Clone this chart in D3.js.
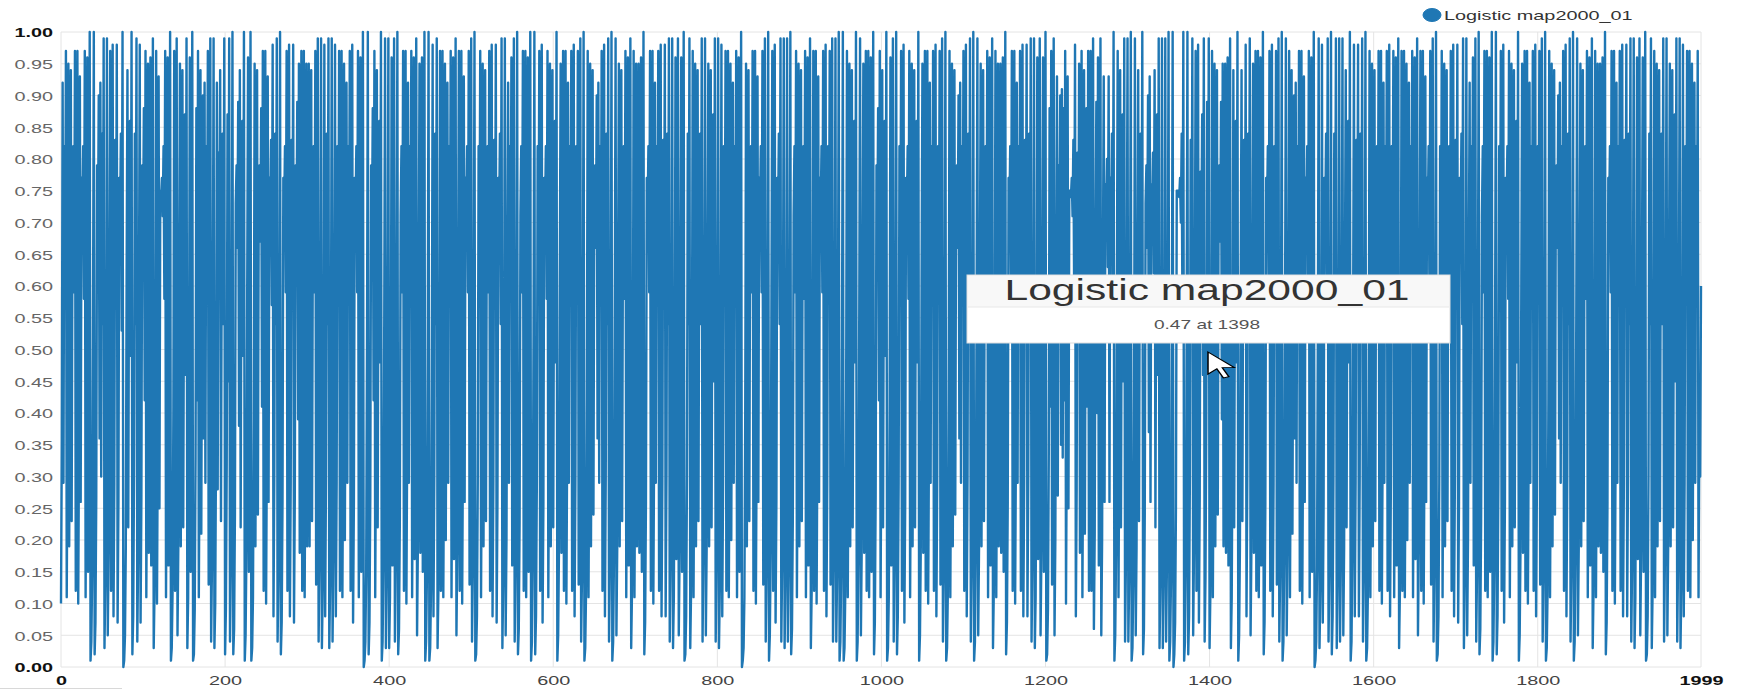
<!DOCTYPE html>
<html><head><meta charset="utf-8">
<script src="https://cdn.jsdelivr.net/npm/d3@7"></script>
<style>
html,body{margin:0;padding:0;background:#fff;}
svg{display:block;font-family:"Liberation Sans",Arial,sans-serif;}
</style></head>
<body>
<svg id="chart" width="1737" height="693"></svg>
<script>
const seriesName = "Logistic map2000_01";
const tooltipValue = "0.47 at 1398";
const xTicks = [0,200,400,600,800,1000,1200,1400,1600,1800,1999];
const yTicks = [0.00,0.05,0.10,0.15,0.20,0.25,0.30,0.35,0.40,0.45,0.50,0.55,0.60,0.65,0.70,0.75,0.80,0.85,0.90,0.95,1.00];
const values = [
0.10,0.36,0.92,0.29,0.82,0.59,0.97,0.11,0.39,0.95,0.19,0.62,0.94,0.23,0.71,0.82,0.59,0.97,0.12,0.42,
0.97,0.10,0.37,0.93,0.26,0.77,0.71,0.82,0.58,0.97,0.11,0.40,0.96,0.15,0.51,1.00,0.01,0.04,0.15,0.52,
1.00,0.02,0.07,0.27,0.79,0.66,0.90,0.36,0.92,0.30,0.84,0.54,0.99,0.03,0.13,0.45,0.99,0.05,0.18,0.59,
0.97,0.12,0.43,0.98,0.08,0.29,0.83,0.57,0.98,0.07,0.26,0.77,0.70,0.84,0.53,1.00,0.00,0.01,0.05,0.19,
0.62,0.94,0.22,0.69,0.86,0.49,1.00,0.02,0.08,0.30,0.84,0.54,0.99,0.04,0.17,0.56,0.98,0.07,0.27,0.79,
0.67,0.88,0.42,0.97,0.11,0.39,0.95,0.18,0.60,0.96,0.16,0.54,0.99,0.03,0.12,0.42,0.97,0.10,0.37,0.93,
0.25,0.75,0.74,0.77,0.71,0.82,0.58,0.97,0.11,0.40,0.96,0.16,0.53,1.00,0.01,0.03,0.12,0.41,0.97,0.12,
0.44,0.99,0.05,0.19,0.61,0.95,0.19,0.62,0.94,0.22,0.68,0.87,0.46,0.99,0.03,0.11,0.40,0.96,0.15,0.51,
1.00,0.01,0.02,0.09,0.33,0.88,0.42,0.97,0.11,0.38,0.94,0.21,0.66,0.90,0.36,0.92,0.29,0.82,0.59,0.97,
0.13,0.45,0.99,0.04,0.16,0.54,0.99,0.03,0.10,0.36,0.92,0.28,0.81,0.62,0.94,0.23,0.70,0.84,0.54,0.99,
0.02,0.09,0.32,0.87,0.45,0.99,0.04,0.15,0.51,1.00,0.02,0.06,0.24,0.73,0.79,0.66,0.89,0.38,0.94,0.22,
0.69,0.86,0.49,1.00,0.01,0.05,0.18,0.60,0.96,0.15,0.52,1.00,0.01,0.03,0.11,0.39,0.95,0.19,0.62,0.94,
0.24,0.73,0.79,0.67,0.88,0.41,0.97,0.12,0.42,0.97,0.10,0.37,0.93,0.26,0.77,0.71,0.83,0.57,0.98,0.08,
0.30,0.84,0.54,0.99,0.04,0.14,0.49,1.00,0.02,0.07,0.26,0.77,0.71,0.82,0.59,0.97,0.12,0.43,0.98,0.08,
0.29,0.83,0.57,0.98,0.07,0.27,0.79,0.67,0.89,0.39,0.95,0.18,0.59,0.97,0.12,0.42,0.97,0.11,0.39,0.95,
0.19,0.61,0.95,0.19,0.62,0.94,0.23,0.71,0.82,0.59,0.97,0.13,0.45,0.99,0.04,0.16,0.54,0.99,0.03,0.12,
0.43,0.98,0.08,0.30,0.84,0.54,0.99,0.03,0.13,0.46,0.99,0.04,0.17,0.57,0.98,0.08,0.29,0.82,0.59,0.97,
0.12,0.42,0.97,0.11,0.39,0.95,0.20,0.64,0.92,0.29,0.82,0.59,0.97,0.12,0.43,0.98,0.07,0.26,0.77,0.71,
0.82,0.59,0.97,0.11,0.40,0.96,0.15,0.51,1.00,0.00,0.01,0.04,0.15,0.51,1.00,0.02,0.07,0.27,0.79,0.67,
0.88,0.42,0.97,0.11,0.38,0.94,0.22,0.69,0.86,0.48,1.00,0.01,0.04,0.16,0.54,0.99,0.03,0.13,0.46,0.99,
0.03,0.11,0.40,0.96,0.16,0.54,0.99,0.04,0.16,0.53,1.00,0.02,0.06,0.23,0.71,0.82,0.59,0.97,0.12,0.42,
0.97,0.10,0.36,0.92,0.29,0.82,0.58,0.97,0.11,0.40,0.96,0.17,0.56,0.99,0.05,0.19,0.61,0.95,0.18,0.60,
0.96,0.15,0.51,1.00,0.01,0.04,0.14,0.48,1.00,0.01,0.03,0.12,0.43,0.98,0.08,0.30,0.84,0.54,0.99,0.03,
0.12,0.41,0.97,0.12,0.42,0.97,0.11,0.39,0.95,0.20,0.64,0.92,0.29,0.82,0.58,0.97,0.11,0.40,0.96,0.17,
0.56,0.99,0.05,0.18,0.59,0.97,0.12,0.42,0.97,0.10,0.37,0.93,0.26,0.77,0.71,0.82,0.59,0.97,0.13,0.45,
0.99,0.04,0.15,0.51,1.00,0.01,0.02,0.08,0.29,0.82,0.58,0.97,0.11,0.39,0.95,0.19,0.62,0.94,0.23,0.71,
0.82,0.59,0.97,0.12,0.43,0.98,0.08,0.29,0.83,0.57,0.98,0.07,0.26,0.77,0.70,0.84,0.54,0.99,0.03,0.13,
0.44,0.99,0.05,0.20,0.64,0.92,0.29,0.82,0.60,0.96,0.16,0.54,0.99,0.04,0.15,0.51,1.00,0.02,0.06,0.23,
0.71,0.82,0.59,0.97,0.12,0.42,0.97,0.11,0.40,0.96,0.15,0.52,1.00,0.01,0.04,0.16,0.53,1.00,0.02,0.08,
0.29,0.82,0.59,0.97,0.12,0.43,0.98,0.07,0.26,0.77,0.71,0.82,0.58,0.97,0.11,0.39,0.95,0.19,0.62,0.94,
0.22,0.69,0.86,0.48,1.00,0.01,0.05,0.19,0.61,0.95,0.18,0.59,0.97,0.12,0.42,0.97,0.10,0.36,0.92,0.29,
0.82,0.59,0.97,0.12,0.43,0.98,0.08,0.29,0.82,0.59,0.97,0.13,0.45,0.99,0.04,0.14,0.48,1.00,0.01,0.03,
0.12,0.42,0.97,0.11,0.39,0.95,0.19,0.62,0.94,0.24,0.73,0.79,0.66,0.90,0.36,0.92,0.29,0.82,0.59,0.97,
0.12,0.43,0.98,0.08,0.30,0.84,0.54,0.99,0.04,0.15,0.51,1.00,0.01,0.04,0.17,0.56,0.99,0.05,0.19,0.61,
0.95,0.19,0.62,0.94,0.23,0.71,0.82,0.58,0.97,0.11,0.40,0.96,0.16,0.54,0.99,0.03,0.12,0.42,0.97,0.11,
0.39,0.95,0.19,0.61,0.95,0.18,0.60,0.96,0.15,0.52,1.00,0.02,0.07,0.26,0.77,0.71,0.82,0.59,0.97,0.12,
0.42,0.97,0.10,0.36,0.92,0.29,0.82,0.59,0.97,0.12,0.43,0.98,0.08,0.29,0.83,0.57,0.98,0.08,0.30,0.84,
0.54,0.99,0.04,0.16,0.54,0.99,0.03,0.11,0.40,0.96,0.17,0.56,0.99,0.05,0.18,0.60,0.96,0.15,0.51,1.00,
0.01,0.02,0.08,0.30,0.84,0.54,0.99,0.03,0.12,0.42,0.97,0.11,0.39,0.95,0.19,0.62,0.94,0.23,0.70,0.84,
0.54,0.99,0.04,0.17,0.56,0.99,0.05,0.19,0.61,0.95,0.19,0.62,0.94,0.22,0.68,0.87,0.45,0.99,0.04,0.16,
0.54,0.99,0.03,0.12,0.43,0.98,0.08,0.29,0.82,0.59,0.97,0.12,0.42,0.97,0.11,0.39,0.95,0.20,0.64,0.92,
0.29,0.82,0.58,0.97,0.11,0.40,0.96,0.15,0.51,1.00,0.00,0.01,0.03,0.11,0.39,0.95,0.19,0.62,0.94,0.23,
0.71,0.82,0.59,0.97,0.12,0.42,0.97,0.10,0.37,0.93,0.26,0.77,0.71,0.82,0.59,0.97,0.13,0.45,0.99,0.04,
0.15,0.51,1.00,0.01,0.05,0.18,0.59,0.97,0.12,0.43,0.98,0.07,0.26,0.77,0.70,0.84,0.54,0.99,0.04,0.16,
0.54,0.99,0.03,0.13,0.45,0.99,0.04,0.15,0.51,1.00,0.02,0.06,0.23,0.71,0.82,0.59,0.97,0.11,0.39,0.95,
0.19,0.62,0.94,0.23,0.71,0.82,0.58,0.97,0.11,0.40,0.96,0.16,0.54,0.99,0.03,0.12,0.42,0.97,0.12,0.42,
0.97,0.10,0.37,0.93,0.26,0.77,0.71,0.82,0.59,0.97,0.12,0.43,0.98,0.08,0.29,0.82,0.59,0.97,0.13,0.45,
0.99,0.04,0.16,0.54,0.99,0.04,0.15,0.51,1.00,0.01,0.04,0.15,0.52,1.00,0.01,0.03,0.12,0.42,0.97,0.11,
0.39,0.95,0.19,0.62,0.94,0.22,0.69,0.86,0.48,1.00,0.01,0.04,0.17,0.56,0.99,0.05,0.19,0.61,0.95,0.18,
0.59,0.97,0.12,0.42,0.97,0.11,0.40,0.96,0.15,0.51,1.00,0.02,0.07,0.27,0.79,0.67,0.88,0.42,0.97,0.11,
0.38,0.94,0.22,0.69,0.86,0.49,1.00,0.01,0.03,0.11,0.40,0.96,0.16,0.54,0.99,0.04,0.16,0.53,1.00,0.02,
0.08,0.29,0.82,0.59,0.97,0.12,0.43,0.98,0.07,0.26,0.77,0.71,0.82,0.58,0.97,0.11,0.39,0.95,0.19,0.62,
0.94,0.22,0.69,0.86,0.48,1.00,0.01,0.05,0.19,0.61,0.95,0.18,0.59,0.97,0.12,0.42,0.97,0.10,0.36,0.92,
0.29,0.82,0.59,0.97,0.12,0.43,0.98,0.08,0.29,0.82,0.59,0.97,0.13,0.45,0.99,0.04,0.14,0.48,1.00,0.01,
0.03,0.12,0.42,0.97,0.11,0.39,0.95,0.19,0.62,0.94,0.24,0.73,0.79,0.66,0.90,0.36,0.92,0.29,0.82,0.59,
0.97,0.12,0.43,0.98,0.08,0.30,0.84,0.54,0.99,0.04,0.15,0.51,1.00,0.01,0.04,0.17,0.56,0.99,0.05,0.19,
0.61,0.95,0.19,0.62,0.94,0.23,0.71,0.82,0.58,0.97,0.11,0.40,0.96,0.16,0.54,0.99,0.03,0.12,0.42,0.97,
0.11,0.39,0.95,0.19,0.61,0.95,0.18,0.60,0.96,0.15,0.52,1.00,0.02,0.07,0.26,0.77,0.71,0.82,0.59,0.97,
0.12,0.42,0.97,0.10,0.36,0.92,0.29,0.82,0.59,0.97,0.12,0.43,0.98,0.08,0.29,0.83,0.57,0.98,0.08,0.30,
0.84,0.54,0.99,0.04,0.16,0.54,0.99,0.03,0.11,0.40,0.96,0.17,0.56,0.99,0.05,0.18,0.60,0.96,0.15,0.51,
1.00,0.01,0.02,0.09,0.33,0.88,0.41,0.97,0.13,0.46,0.99,0.05,0.20,0.64,0.93,0.27,0.79,0.66,0.90,0.35,
0.91,0.33,0.88,0.42,0.97,0.10,0.37,0.93,0.25,0.75,0.75,0.74,0.77,0.71,0.83,0.57,0.98,0.08,0.28,0.81,
0.61,0.95,0.18,0.58,0.97,0.11,0.38,0.94,0.21,0.67,0.88,0.41,0.97,0.12,0.41,0.97,0.12,0.44,0.99,0.06,
0.21,0.67,0.89,0.40,0.96,0.16,0.55,0.99,0.05,0.20,0.63,0.93,0.26,0.76,0.72,0.80,0.63,0.93,0.26,0.77,
0.70,0.84,0.53,1.00,0.01,0.05,0.18,0.58,0.97,0.11,0.38,0.94,0.22,0.68,0.87,0.45,0.99,0.04,0.16,0.55,
0.99,0.04,0.14,0.49,1.00,0.01,0.03,0.13,0.44,0.99,0.05,0.19,0.62,0.94,0.23,0.70,0.84,0.53,1.00,0.02,
0.06,0.24,0.73,0.79,0.66,0.90,0.37,0.93,0.26,0.76,0.72,0.81,0.62,0.94,0.22,0.68,0.87,0.46,0.99,0.03,
0.13,0.46,0.99,0.03,0.13,0.45,0.99,0.04,0.16,0.53,1.00,0.01,0.04,0.14,0.49,1.00,0.00,0.02,0.07,0.25,
0.75,0.75,0.75,0.74,0.77,0.70,0.84,0.53,1.00,0.01,0.04,0.15,0.50,1.00,0.02,0.08,0.30,0.83,0.56,0.99,
0.05,0.18,0.59,0.97,0.12,0.43,0.98,0.07,0.27,0.78,0.68,0.87,0.46,0.99,0.04,0.14,0.38,0.89,0.47,0.99,
0.03,0.12,0.42,0.97,0.11,0.39,0.95,0.19,0.62,0.94,0.24,0.73,0.79,0.67,0.89,0.39,0.95,0.19,0.61,0.95,
0.18,0.60,0.96,0.16,0.54,0.99,0.03,0.11,0.38,0.94,0.22,0.69,0.86,0.48,1.00,0.01,0.05,0.19,0.62,0.94,
0.23,0.71,0.83,0.57,0.98,0.08,0.30,0.84,0.55,0.99,0.05,0.19,0.61,0.95,0.18,0.59,0.97,0.12,0.42,0.97,
0.11,0.40,0.96,0.16,0.53,1.00,0.02,0.07,0.26,0.77,0.71,0.82,0.59,0.97,0.12,0.43,0.98,0.08,0.29,0.82,
0.59,0.97,0.13,0.45,0.99,0.04,0.15,0.51,1.00,0.01,0.04,0.17,0.56,0.99,0.05,0.18,0.58,0.97,0.11,0.38,
0.94,0.21,0.66,0.90,0.36,0.92,0.29,0.82,0.59,0.97,0.12,0.42,0.97,0.10,0.37,0.93,0.26,0.77,0.71,0.82,
0.58,0.97,0.11,0.40,0.96,0.15,0.51,1.00,0.00,0.01,0.04,0.16,0.54,0.99,0.03,0.12,0.43,0.98,0.07,0.26,
0.77,0.70,0.84,0.54,0.99,0.04,0.15,0.52,1.00,0.02,0.08,0.30,0.84,0.54,0.99,0.03,0.13,0.45,0.99,0.04,
0.16,0.54,0.99,0.05,0.19,0.62,0.94,0.22,0.69,0.86,0.48,1.00,0.01,0.04,0.17,0.57,0.98,0.08,0.29,0.83,
0.57,0.98,0.08,0.30,0.84,0.54,0.99,0.04,0.14,0.48,1.00,0.01,0.03,0.12,0.42,0.97,0.11,0.39,0.95,0.19,
0.62,0.94,0.23,0.71,0.82,0.59,0.97,0.12,0.42,0.97,0.10,0.36,0.92,0.29,0.82,0.59,0.97,0.12,0.43,0.98,
0.08,0.29,0.82,0.58,0.97,0.11,0.40,0.96,0.16,0.54,0.99,0.03,0.12,0.41,0.97,0.12,0.42,0.97,0.11,0.39,
0.95,0.20,0.64,0.92,0.29,0.82,0.58,0.97,0.11,0.40,0.96,0.17,0.56,0.99,0.05,0.18,0.59,0.97,0.12,0.42,
0.97,0.10,0.37,0.93,0.26,0.77,0.71,0.82,0.59,0.97,0.13,0.45,0.99,0.04,0.15,0.51,1.00,0.01,0.02,0.08,
0.29,0.82,0.58,0.97,0.11,0.39,0.95,0.19,0.62,0.94,0.23,0.71,0.82,0.59,0.97,0.12,0.43,0.98,0.08,0.29,
0.83,0.57,0.98,0.07,0.26,0.77,0.70,0.84,0.54,0.99,0.03,0.13,0.44,0.99,0.05,0.20,0.64,0.92,0.29,0.82,
0.60,0.96,0.16,0.54,0.99,0.04,0.15,0.51,1.00,0.02,0.06,0.23,0.71,0.82,0.59,0.97,0.12,0.42,0.97,0.11,
0.40,0.96,0.15,0.52,1.00,0.01,0.04,0.16,0.53,1.00,0.02,0.08,0.29,0.82,0.59,0.97,0.12,0.43,0.98,0.07,
0.26,0.77,0.71,0.82,0.58,0.97,0.11,0.39,0.95,0.19,0.62,0.94,0.22,0.69,0.86,0.48,1.00,0.01,0.05,0.19,
0.61,0.95,0.18,0.59,0.97,0.12,0.42,0.97,0.10,0.36,0.92,0.29,0.82,0.59,0.97,0.12,0.43,0.98,0.08,0.29,
0.82,0.59,0.97,0.13,0.45,0.99,0.04,0.14,0.48,1.00,0.01,0.03,0.12,0.42,0.97,0.11,0.39,0.95,0.19,0.62,
0.94,0.24,0.73,0.79,0.66,0.90,0.36,0.92,0.29,0.82,0.59,0.97,0.12,0.43,0.98,0.08,0.30,0.84,0.54,0.99,
0.04,0.15,0.51,1.00,0.01,0.04,0.17,0.56,0.99,0.05,0.19,0.61,0.95,0.19,0.62,0.94,0.23,0.71,0.82,0.58,
0.97,0.11,0.40,0.96,0.16,0.54,0.99,0.03,0.12,0.42,0.97,0.11,0.39,0.95,0.19,0.61,0.95,0.18,0.60,0.96,
0.15,0.52,1.00,0.02,0.07,0.26,0.77,0.71,0.82,0.59,0.97,0.12,0.42,0.97,0.10,0.36,0.92,0.29,0.82,0.59,
0.97,0.12,0.43,0.98,0.08,0.29,0.83,0.57,0.98,0.08,0.30,0.84,0.54,0.99,0.04,0.16,0.54,0.99,0.03,0.11,
0.40,0.96,0.17,0.56,0.99,0.05,0.18,0.60,0.96,0.15,0.51,1.00,0.01,0.02,0.08,0.30,0.84,0.54,0.99,0.03,
0.12,0.42,0.97,0.11,0.39,0.95,0.19,0.62,0.94,0.23,0.70,0.84,0.54,0.99,0.04,0.17,0.56,0.99,0.05,0.19,
0.61,0.95,0.19,0.62,0.94,0.22,0.68,0.87,0.45,0.99,0.04,0.16,0.54,0.99,0.03,0.12,0.43,0.98,0.08,0.29,
0.82,0.59,0.97,0.12,0.42,0.97,0.11,0.39,0.95,0.20,0.64,0.92,0.29,0.82,0.58,0.97,0.11,0.40,0.30,0.60
];

const SX = 1.47; // horizontal stretch of the original screenshot's text
const svg = d3.select("#chart");
const x = d3.scaleLinear().domain([0, 1999]).range([61, 1701]);
const y = d3.scaleLinear().domain([0, 1]).range([667, 32]);
const fmt = d3.format(".2f");

// grid
const grid = svg.append("g");
grid.selectAll("line.h").data(yTicks).join("line")
  .attr("x1", x(0)).attr("x2", x(1999))
  .attr("y1", d => y(d)).attr("y2", d => y(d))
  .attr("stroke", "#e4e4e4").attr("stroke-width", 1);
grid.selectAll("line.v").data(xTicks).join("line")
  .attr("x1", d => x(d)).attr("x2", d => x(d))
  .attr("y1", y(0)).attr("y2", y(1))
  .attr("stroke", "#e4e4e4").attr("stroke-width", 1);

// line
const line = d3.line().x((d, i) => x(i)).y(d => y(d));
svg.append("path").datum(values)
  .attr("fill", "none").attr("stroke", "#1f77b4")
  .attr("stroke-width", 2.4).attr("stroke-linejoin", "round")
  .attr("d", line);

// y axis
const yAxis = svg.append("g").attr("transform", `translate(${x(0)},0)`)
  .call(d3.axisLeft(y).tickValues(yTicks).tickFormat(fmt).tickSize(0).tickPadding(0));
yAxis.select(".domain").remove();
yAxis.selectAll("text")
  .attr("x", -8 / SX).attr("dy", "0.36em")
  .attr("transform", `scale(${SX},1)`)
  .style("font-size", "13.5px")
  .style("font-family", "'Liberation Sans',Arial,sans-serif")
  .style("fill", d => (d === 0 || d === 1) ? "#111" : "#666")
  .style("font-weight", d => (d === 0 || d === 1) ? "bold" : "normal");

// x axis
const xAxis = svg.append("g").attr("transform", `translate(0,${y(0)})`)
  .call(d3.axisBottom(x).tickValues(xTicks).tickFormat(d3.format("d")).tickSize(0).tickPadding(0));
xAxis.select(".domain").remove();
xAxis.selectAll("text")
  .attr("y", 13).attr("dy", "0.36em")
  .attr("transform", `scale(${SX},1)`)
  .style("font-size", "13.5px")
  .style("font-family", "'Liberation Sans',Arial,sans-serif")
  .style("fill", d => (d === 0 || d === 1999) ? "#111" : "#444")
  .style("font-weight", d => (d === 0 || d === 1999) ? "bold" : "normal");

// legend
const lg = svg.append("g").attr("transform", "translate(1432,15)");
lg.append("ellipse").attr("rx", 9).attr("ry", 6.5).attr("fill", "#1f77b4").attr("stroke", "#1f77b4");
lg.append("text").attr("transform", `translate(12,0) scale(${SX},1)`)
  .attr("dy", "0.36em").style("font-size", "13.5px").style("fill", "#333")
  .text(seriesName);

// tooltip
const tt = svg.append("g");
tt.append("rect").attr("x", 967).attr("y", 275).attr("width", 483).attr("height", 68)
  .attr("fill", "#fff").attr("stroke", "#ddd").attr("stroke-width", 1);
tt.append("rect").attr("x", 968).attr("y", 276).attr("width", 481).attr("height", 31)
  .attr("fill", "#f8f8f8");
tt.append("line").attr("x1", 968).attr("x2", 1449).attr("y1", 307).attr("y2", 307)
  .attr("stroke", "#e8e8e8");
tt.append("text").attr("transform", `translate(1207,300) scale(${SX},1)`)
  .attr("text-anchor", "middle").style("font-size", "29px").style("fill", "#333")
  .text(seriesName);
tt.append("text").attr("transform", `translate(1207,329) scale(${SX},1)`)
  .attr("text-anchor", "middle").style("font-size", "13px").style("fill", "#555")
  .text(tooltipValue);

// mouse cursor
svg.append("path")
  .attr("transform", "translate(1208,352) scale(2.2,1.3)")
  .attr("d", "M0,0 L0,17 L4,13 L7,20 L9.5,19 L6.5,12 L12,12 Z")
  .attr("fill", "#fff").attr("stroke", "#000").attr("stroke-width", 0.7);

// small artifact line bottom-left
svg.append("line").attr("x1", 0).attr("x2", 122).attr("y1", 688.5).attr("y2", 688.5)
  .attr("stroke", "#d8d8d8");
</script>
</body></html>
